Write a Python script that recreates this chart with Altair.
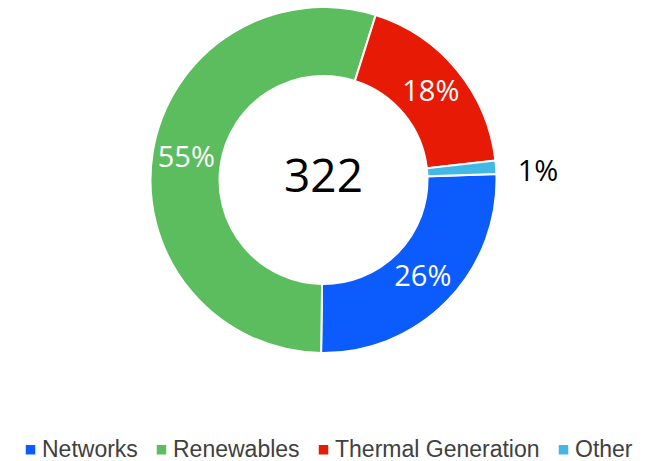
import altair as alt
import pandas as pd
import math

categories = ["Networks", "Renewables", "Thermal Generation", "Other"]
values = [83, 176, 59, 4]
colors = ["#0B5BFD", "#5BBD5D", "#E71A06", "#42B8E4"]

total = sum(values)
pcts = [f"{round(v / total * 100)}%" for v in values]
inner_labels = [p if c != "Other" else "" for p, c in zip(pcts, categories)]
outer_labels = [p if c == "Other" else "" for p, c in zip(pcts, categories)]

df = pd.DataFrame({
    "category": categories,
    "value": values,
    "order": list(range(len(categories))),
    "inner": inner_labels,
    "outer": outer_labels,
})

start = math.radians(88)
theta_scale = alt.Scale(range=[start, start + 2 * math.pi])

base = alt.Chart(df).encode(
    theta=alt.Theta("value:Q", stack=True, scale=theta_scale),
    order=alt.Order("order:Q"),
)

arcs = base.mark_arc(innerRadius=104, outerRadius=173, stroke="white", strokeWidth=2).encode(
    color=alt.Color(
        "category:N",
        scale=alt.Scale(domain=categories, range=colors),
        sort=categories,
        legend=alt.Legend(
            title=None,
            orient="none",
            direction="horizontal",
            legendX=11,
            legendY=430,
            symbolType="square",
            symbolSize=90,
            symbolStrokeWidth=0,
            labelFont="Liberation Sans",
            labelFontSize=23,
            labelColor="#404040",
            labelOffset=0,
            columnPadding=12,
            labelLimit=400,
        ),
    )
)

inner_text = base.mark_text(
    radius=139, font="Open Sans", fontSize=29, color="white", baseline="middle", align="center"
).encode(text="inner:N")

outer_text = base.mark_text(
    radius=215, font="Open Sans", fontSize=29, color="black", baseline="middle", align="center", dy=8
).encode(text="outer:N")

center = alt.Chart(pd.DataFrame({"t": [str(total)]})).mark_text(
    font="Open Sans", fontSize=46, color="black", baseline="middle", align="center", dy=-2
).encode(text="t:N")

chart = alt.layer(arcs, inner_text, outer_text, center).properties(
    width=631,
    height=344,
    autosize=alt.AutoSizeParams(type="none"),
    padding={"left": 0, "top": 0, "right": 14, "bottom": 109},
).configure_view(stroke=None)

chart.save("out.html", embed_options={"renderer": "svg", "actions": False})
